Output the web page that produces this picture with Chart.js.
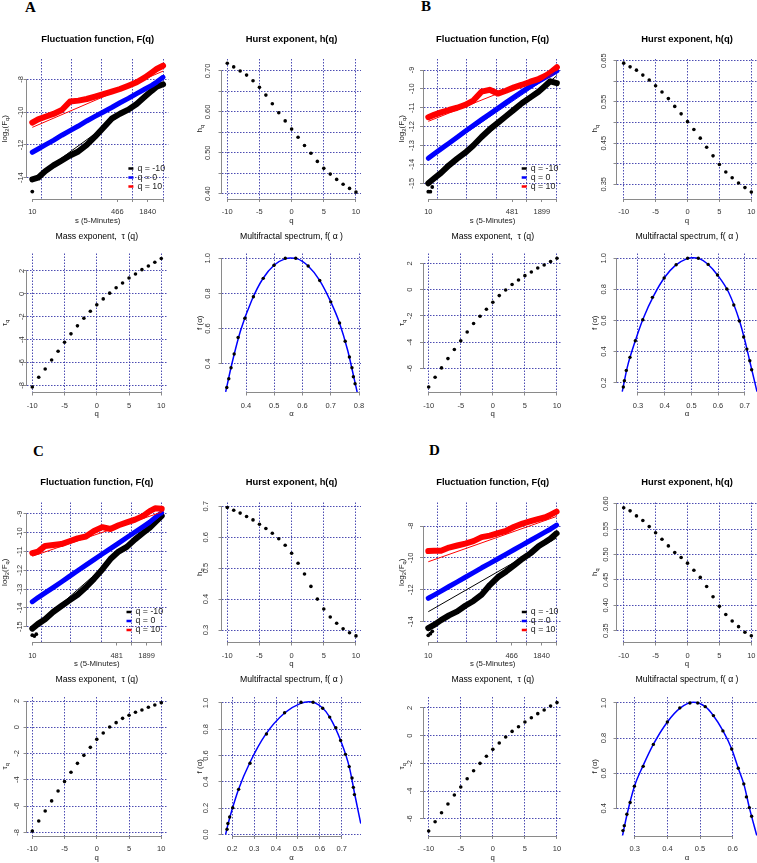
<!DOCTYPE html>
<html>
<head>
<meta charset="utf-8">
<title>MF-DFA panels</title>
<script src="https://cdn.jsdelivr.net/npm/chart.js@4.4.1/dist/chart.umd.min.js"></script>
<style>
  html, body { margin: 0; padding: 0; background: #fff; }
  body { position: relative; width: 757px; height: 863px; overflow: hidden; }
  canvas { position: absolute; }
  .tag { position: absolute; font: bold 15px "Liberation Serif", "Times New Roman", serif; line-height: 15px; color: #000; }
</style>
</head>
<body>
<div class="tag" style="left:25px;top:0px">A</div>
<div class="tag" style="left:421px;top:-1px">B</div>
<div class="tag" style="left:33px;top:444px">C</div>
<div class="tag" style="left:429px;top:443px">D</div>
<script>
// shared q values (x of h(q) and tau(q))
const qValues = [-10, -9, -8, -7, -6, -5, -4, -3, -2, -1, 0, 1, 2, 3, 4, 5, 6, 7, 8, 9, 10];
const qTicks = [-10, -5, 0, 5, 10];
const qTickLabels = ['-10', '-5', '0', '5', '10'];
const legendLabels = ['q = -10', 'q = 0', 'q = 10'];

// ---------- Panel A ----------
const scaleA = [10, 13, 18, 26, 38, 55, 80, 117, 170, 248, 361, 526, 767, 1118, 1629, 2200, 2760, 3680];
const fqA_m10 = [-14.1, -14.0, -13.6, -13.25, -12.95, -12.65, -12.4, -12.0, -11.5, -10.95, -10.4, -10.1, -9.85, -9.5, -9.05, -8.7, -8.45, -8.3];
const fqA_0 = [-12.45, -12.25, -12.0, -11.72, -11.41, -11.13, -10.85, -10.54, -10.26, -9.99, -9.72, -9.43, -9.16, -8.87, -8.59, -8.37, -8.17, -7.88];
const fqA_p10 = [-10.64, -10.44, -10.28, -10.11, -9.87, -9.35, -9.3, -9.2, -9.06, -8.91, -8.75, -8.59, -8.39, -8.18, -7.88, -7.59, -7.37, -7.17];
const fitA_m10 = [-14.1, -8.3];
const fitA_0 = [-12.45, -7.95];
const fitA_p10 = [-10.93, -7.5];
const lowA_s = [10];
const lowA_v = [-14.85];
const hurstA = [0.719, 0.710, 0.700, 0.690, 0.676, 0.660, 0.641, 0.620, 0.598, 0.578, 0.558, 0.538, 0.518, 0.499, 0.479, 0.462, 0.448, 0.435, 0.423, 0.413, 0.404];
const tauA = [-8.15, -7.3, -6.58, -5.78, -5.02, -4.23, -3.5, -2.8, -2.13, -1.52, -0.96, -0.44, 0.06, 0.54, 0.95, 1.39, 1.74, 2.12, 2.44, 2.76, 3.1];
const alphaA = [0.332, 0.339, 0.347, 0.358, 0.372, 0.396, 0.426, 0.461, 0.499, 0.539, 0.576, 0.620, 0.661, 0.700, 0.731, 0.751, 0.766, 0.775, 0.780, 0.786];
const falphaA = [0.265, 0.314, 0.377, 0.455, 0.549, 0.659, 0.781, 0.886, 0.960, 1.0, 1.0, 0.956, 0.874, 0.752, 0.632, 0.528, 0.438, 0.377, 0.326, 0.286];
const curveAlphaA = [0.328, 0.35, 0.38, 0.42, 0.46, 0.50, 0.54, 0.557, 0.58, 0.62, 0.66, 0.70, 0.73, 0.76, 0.78, 0.796];
const curveFA = [0.24, 0.40, 0.585, 0.76, 0.885, 0.962, 0.998, 1.002, 0.998, 0.956, 0.876, 0.752, 0.636, 0.475, 0.335, 0.22];

// ---------- Panel B ----------
const scaleB = [10, 13, 18, 26, 38, 55, 80, 117, 170, 248, 361, 526, 767, 1118, 1629, 2200, 2800, 3800];
const fqB_m10 = [-15.0, -14.75, -14.45, -14.05, -13.7, -13.38, -13.0, -12.55, -12.15, -11.8, -11.45, -11.1, -10.75, -10.45, -10.15, -9.85, -9.6, -9.7];
const fqB_0 = [-13.68, -13.45, -13.18, -12.88, -12.56, -12.25, -11.94, -11.63, -11.33, -11.03, -10.73, -10.43, -10.14, -9.86, -9.6, -9.4, -9.25, -9.05];
const fqB_p10 = [-11.5, -11.38, -11.25, -11.12, -11.0, -10.85, -10.62, -10.15, -10.05, -10.25, -10.1, -9.92, -9.78, -9.62, -9.48, -9.32, -9.15, -8.85];
const fitB_m10 = [-15.05, -9.3];
const fitB_0 = [-13.7, -9.05];
const fitB_p10 = [-11.72, -9.0];
const lowB_s = [10, 11, 12];
const lowB_v = [-15.45, -15.45, -15.2];
const hurstB = [0.644, 0.635, 0.627, 0.615, 0.603, 0.589, 0.574, 0.558, 0.539, 0.521, 0.502, 0.483, 0.462, 0.440, 0.419, 0.398, 0.380, 0.366, 0.353, 0.342, 0.331];
const tauB = [-7.42, -6.68, -5.97, -5.26, -4.57, -3.91, -3.23, -2.59, -2.04, -1.50, -0.97, -0.46, -0.03, 0.38, 0.73, 1.06, 1.34, 1.64, 1.87, 2.13, 2.38];
const alphaB = [0.245, 0.249, 0.256, 0.270, 0.290, 0.318, 0.354, 0.398, 0.443, 0.486, 0.526, 0.563, 0.598, 0.633, 0.659, 0.680, 0.696, 0.708, 0.719, 0.726];
const falphaB = [0.172, 0.212, 0.279, 0.363, 0.470, 0.605, 0.749, 0.873, 0.959, 1.0, 1.0, 0.961, 0.893, 0.803, 0.700, 0.597, 0.494, 0.416, 0.341, 0.283];
const curveAlphaB = [0.241, 0.26, 0.29, 0.32, 0.36, 0.40, 0.44, 0.48, 0.506, 0.53, 0.56, 0.60, 0.64, 0.68, 0.70, 0.72, 0.746];
const curveFB = [0.142, 0.30, 0.47, 0.615, 0.763, 0.878, 0.955, 0.995, 1.003, 0.998, 0.965, 0.888, 0.78, 0.60, 0.475, 0.33, 0.142];

// ---------- Panel C ----------
const scaleC = [10, 13, 18, 26, 38, 55, 80, 117, 170, 248, 361, 526, 767, 1118, 1629, 2200, 2800, 3800];
const fqC_m10 = [-15.1, -14.85, -14.6, -14.22, -13.9, -13.6, -13.3, -12.9, -12.45, -11.95, -11.4, -11.0, -10.75, -10.35, -10.0, -9.73, -9.45, -9.1];
const fqC_0 = [-13.67, -13.45, -13.2, -12.92, -12.62, -12.32, -12.02, -11.72, -11.43, -11.13, -10.84, -10.55, -10.25, -9.96, -9.67, -9.43, -9.2, -8.93];
const fqC_p10 = [-11.08, -11.0, -10.7, -10.65, -10.6, -10.45, -10.3, -10.2, -9.9, -9.7, -9.8, -9.6, -9.45, -9.3, -9.1, -8.85, -8.7, -8.72];
const fitC_m10 = [-15.15, -9.1];
const fitC_0 = [-13.7, -8.95];
const fitC_p10 = [-11.25, -8.9];
const lowC_s = [10, 11, 12];
const lowC_v = [-15.45, -15.5, -15.4];
const hurstC = [0.696, 0.687, 0.678, 0.667, 0.656, 0.642, 0.628, 0.613, 0.595, 0.574, 0.548, 0.516, 0.481, 0.441, 0.400, 0.368, 0.342, 0.322, 0.304, 0.291, 0.281];
const tauC = [-7.9, -7.14, -6.38, -5.61, -4.85, -4.14, -3.43, -2.75, -2.14, -1.53, -0.92, -0.44, 0.02, 0.35, 0.68, 0.91, 1.14, 1.31, 1.52, 1.70, 1.87];
const alphaC = [0.176, 0.180, 0.188, 0.202, 0.229, 0.281, 0.356, 0.439, 0.514, 0.569, 0.613, 0.645, 0.673, 0.695, 0.717, 0.734, 0.747, 0.753, 0.758];
const falphaC = [0.040, 0.083, 0.133, 0.203, 0.343, 0.541, 0.764, 0.925, 1.005, 1.005, 0.960, 0.892, 0.812, 0.714, 0.609, 0.516, 0.429, 0.358, 0.303];
const curveAlphaC = [0.1695, 0.18, 0.20, 0.23, 0.28, 0.35, 0.44, 0.51, 0.55, 0.61, 0.645, 0.695, 0.735, 0.76, 0.787];
const curveFC = [0.0, 0.075, 0.195, 0.35, 0.545, 0.755, 0.925, 0.995, 1.008, 0.965, 0.892, 0.714, 0.51, 0.30, 0.083];

// ---------- Panel D ----------
const scaleD = [10, 13, 18, 26, 38, 55, 80, 117, 170, 248, 361, 526, 767, 1118, 1629, 2200, 2760, 3680];
const fqD_m10 = [-14.4, -14.2, -13.9, -13.6, -13.35, -13.0, -12.7, -12.3, -11.7, -11.2, -10.85, -10.45, -10.05, -9.7, -9.25, -9.0, -8.8, -8.46];
const fqD_0 = [-12.53, -12.33, -12.08, -11.79, -11.5, -11.21, -10.92, -10.62, -10.34, -10.05, -9.76, -9.47, -9.18, -8.89, -8.6, -8.37, -8.2, -7.95];
const fqD_p10 = [-9.57, -9.55, -9.55, -9.35, -9.22, -9.1, -8.95, -8.7, -8.6, -8.45, -8.3, -8.05, -7.85, -7.7, -7.55, -7.45, -7.3, -7.1];
const fitD_m10 = [-13.37, -8.75];
const fitD_0 = [-12.55, -7.95];
const fitD_p10 = [-10.24, -7.4];
const lowD_s = [10, 11, 12];
const lowD_v = [-14.85, -14.75, -14.6];
const hurstD = [0.592, 0.586, 0.576, 0.567, 0.555, 0.543, 0.530, 0.517, 0.504, 0.494, 0.483, 0.469, 0.455, 0.437, 0.417, 0.398, 0.382, 0.369, 0.358, 0.347, 0.340];
const tauD = [-6.89, -6.22, -5.57, -4.94, -4.29, -3.71, -3.11, -2.53, -2.0, -1.49, -0.99, -0.53, -0.10, 0.31, 0.65, 0.99, 1.30, 1.59, 1.86, 2.14, 2.39];
const alphaD = [0.264, 0.268, 0.276, 0.286, 0.299, 0.326, 0.357, 0.400, 0.438, 0.469, 0.493, 0.516, 0.541, 0.570, 0.597, 0.617, 0.634, 0.642, 0.651, 0.658];
const falphaD = [0.273, 0.301, 0.366, 0.433, 0.526, 0.639, 0.764, 0.892, 0.972, 1.0, 1.0, 0.979, 0.928, 0.841, 0.738, 0.628, 0.539, 0.465, 0.404, 0.355];
const curveAlphaD = [0.2622, 0.27, 0.285, 0.30, 0.325, 0.357, 0.40, 0.44, 0.48, 0.516, 0.54, 0.57, 0.597, 0.617, 0.634, 0.651, 0.6745];
const curveFD = [0.239, 0.31, 0.43, 0.53, 0.64, 0.764, 0.892, 0.972, 1.004, 0.979, 0.93, 0.842, 0.738, 0.628, 0.539, 0.404, 0.239];

// axis ticks of the fluctuation plots (labels only on some)
const sTicksA = [10, 466, 920, 1840, 3680];
const sLabelsA = ['10', '466', '', '1840', ''];
const sGridA = [15, 58, 232, 920, 3680];
const sTicksB = [10, 481, 950, 1899, 3800];
const sLabelsB = ['10', '481', '', '1899', ''];
const sGridB = [15, 59, 237, 950, 3800];

const FONT = '"Liberation Sans", Arial, Helvetica, sans-serif';
const GRID = 'rgba(45, 45, 165, 0.85)';
const AXIS = '#8a8a8a';
const TXT = '#333333';
const NONE = 'rgba(0,0,0,0)';

function pairs(xs, ys) {
    return xs.map((x, i) => ({ x: x, y: ys[i] }));
}

function drawParts(ctx, parts, size, x, y, rotated) {
    const f = s => s + 'px ' + FONT;
    let w = 0;
    parts.forEach(p => { ctx.font = f(p[1] ? size * 0.72 : size); w += ctx.measureText(p[0]).width; });
    ctx.save();
    ctx.translate(x, y);
    if (rotated) ctx.rotate(-Math.PI / 2);
    ctx.textAlign = 'left';
    ctx.textBaseline = 'middle';
    let pos = -w / 2;
    parts.forEach(p => {
        ctx.font = f(p[1] ? size * 0.72 : size);
        ctx.fillText(p[0], pos, p[1] ? size * 0.35 : 0);
        pos += ctx.measureText(p[0]).width;
    });
    ctx.restore();
}

// R-like axes, labels, titles and legend
function rPlot(cfg) {
    return {
        id: 'rPlot',
        afterDraw(chart) {
            const ctx = chart.ctx;
            const a = chart.chartArea;
            const sx = chart.scales.x, sy = chart.scales.y;
            const cx = (a.left + a.right) / 2, cy = (a.top + a.bottom) / 2;
            ctx.save();
            ctx.strokeStyle = AXIS;
            ctx.lineWidth = 1;
            ctx.beginPath();
            const yb = Math.round(a.bottom) + 0.5, xl = Math.round(a.left) - 0.5;
            ctx.moveTo(sx.getPixelForValue(cfg.xTicks[0]), yb);
            ctx.lineTo(sx.getPixelForValue(cfg.xTicks[cfg.xTicks.length - 1]), yb);
            ctx.moveTo(xl, sy.getPixelForValue(cfg.yTicks[0]));
            ctx.lineTo(xl, sy.getPixelForValue(cfg.yTicks[cfg.yTicks.length - 1]));
            ctx.stroke();

            ctx.fillStyle = TXT;
            ctx.font = '7.5px ' + FONT;
            ctx.textAlign = 'center';
            ctx.textBaseline = 'middle';
            cfg.xTicks.forEach((v, i) => {
                const t = cfg.xLabels[i];
                if (t) ctx.fillText(t, sx.getPixelForValue(v), a.bottom + 13.5);
            });
            cfg.yTicks.forEach((v, i) => {
                const t = cfg.yLabels[i];
                if (!t) return;
                ctx.save();
                ctx.translate(a.left - cfg.yGap, sy.getPixelForValue(v));
                ctx.rotate(-Math.PI / 2);
                ctx.fillText(t, 0, 0);
                ctx.restore();
            });

            ctx.fillStyle = '#000';
            ctx.font = (cfg.bold ? 'bold 9.4px ' : '8.7px ') + FONT;
            ctx.fillText(cfg.title, cx, a.top - (cfg.bold ? 20 : 17));

            ctx.fillStyle = '#222';
            drawParts(ctx, cfg.xTitle, 7.8, cx, a.bottom + 22, false);
            drawParts(ctx, cfg.yTitle, 8, a.left - 22, cy, true);

            if (cfg.legend) {
                const cols = ['#000000', '#0000ff', '#ff0000'];
                ctx.font = '8.8px ' + FONT;
                ctx.textAlign = 'left';
                legendLabels.forEach((t, i) => {
                    const y = a.bottom - 30 + 9 * i;
                    ctx.strokeStyle = cols[i];
                    ctx.lineWidth = 2.5;
                    ctx.beginPath();
                    ctx.moveTo(a.right - 40, y);
                    ctx.lineTo(a.right - 35, y);
                    ctx.stroke();
                    ctx.fillStyle = '#222';
                    ctx.fillText(t, a.right - 31, y);
                });
            }
            ctx.restore();
        }
    };
}

function makePanel(cfg) {
    const cl = Math.floor(cfg.L - 40), ct = Math.floor(cfg.T - 32);
    const W = Math.ceil(cfg.R + 10) - cl, H = Math.ceil(cfg.B + 30) - ct;
    const pad = {
        left: cfg.L - 40 - cl,
        top: cfg.T - ct,
        right: W - (cfg.R - cl),
        bottom: H - 30 - (cfg.B - ct)
    };
    const cv = document.createElement('canvas');
    cv.width = W;
    cv.height = H;
    cv.style.left = cl + 'px';
    cv.style.top = ct + 'px';
    cv.style.width = W + 'px';
    cv.style.height = H + 'px';
    document.body.appendChild(cv);

    const xGrid = cfg.xGrid || cfg.xTicks;
    const xAll = Array.from(new Set(cfg.xTicks.concat(xGrid))).sort((p, q) => p - q);
    const yGrid = cfg.yTicks;

    new Chart(cv, {
        type: 'scatter',
        data: { datasets: cfg.datasets },
        options: {
            responsive: false,
            animation: false,
            devicePixelRatio: 1,
            events: [],
            layout: { padding: pad },
            plugins: { legend: { display: false }, tooltip: { enabled: false } },
            scales: {
                x: {
                    type: cfg.xLog ? 'logarithmic' : 'linear',
                    bounds: 'data',
                    min: cfg.xMin,
                    max: cfg.xMax,
                    afterBuildTicks: s => { s.ticks = xAll.map(v => ({ value: v })); },
                    afterFit: s => { s.height = 30; },
                    ticks: { display: false },
                    border: { display: false, dash: [1.5, 1.5] },
                    grid: {
                        drawTicks: true, tickLength: 3.5, lineWidth: 1, tickWidth: 1,
                        color: c => (c.tick && xGrid.includes(c.tick.value)) ? GRID : NONE,
                        tickColor: c => (c.tick && cfg.xTicks.includes(c.tick.value)) ? AXIS : NONE
                    }
                },
                y: {
                    type: 'linear',
                    bounds: 'data',
                    min: cfg.yMin,
                    max: cfg.yMax,
                    afterBuildTicks: s => { s.ticks = cfg.yTicks.map(v => ({ value: v })); },
                    afterFit: s => { s.width = 40; },
                    ticks: { display: false },
                    border: { display: false, dash: [1.5, 1.5] },
                    grid: {
                        drawTicks: true, tickLength: 3.5, lineWidth: 1, tickWidth: 1,
                        color: c => (c.tick && yGrid.includes(c.tick.value)) ? GRID : NONE,
                        tickColor: AXIS
                    }
                }
            }
        },
        plugins: [rPlot(cfg)]
    });
}

function fluctSets(s, m10, z, p10, fm, fz, fp, lowS, lowV) {
    const ends = [s[0], s[s.length - 1]];
    const band = (v, col, w) => ({
        data: pairs(s, v), showLine: true, pointRadius: 0, borderColor: col, borderWidth: w,
        borderJoinStyle: 'round', borderCapStyle: 'round', tension: 0
    });
    const fit = (v, col) => ({ data: pairs(ends, v), showLine: true, pointRadius: 0, borderColor: col, borderWidth: 1 });
    return [
        fit(fp, '#ff0000'), fit(fz, '#0000ff'), fit(fm, '#000000'),
        { data: pairs(lowS, lowV), pointRadius: 1.9, pointBackgroundColor: '#000', pointBorderWidth: 0 },
        band(p10, '#ff0000', 6), band(z, '#0000ff', 5), band(m10, '#000000', 6)
    ];
}

function dotSets(xs, ys) {
    return [{ data: pairs(xs, ys), pointRadius: 1.8, pointBackgroundColor: '#000', pointBorderWidth: 0 }];
}

function spectrumSets(ax, fx, cax, cfx) {
    return [
        { data: pairs(ax, fx), pointRadius: 1.7, pointBackgroundColor: '#000', pointBorderWidth: 0 },
        { data: pairs(cax, cfx), showLine: true, pointRadius: 0, borderColor: '#0000ff', borderWidth: 1.5,
          cubicInterpolationMode: 'monotone' }
    ];
}

const FQ_TITLE = 'Fluctuation function, F(q)';
const H_TITLE = 'Hurst exponent, h(q)';
const TAU_TITLE = 'Mass exponent,  \u03c4 (q)';
const F_TITLE = 'Multifractal spectrum, f( \u03b1 )';
const S_LAB = [['s (5-Minutes)', 0]];
const Q_LAB = [['q', 0]];
const A_LAB = [['\u03b1', 0]];
const FQ_YLAB = [['log', 0], ['2', 1], ['(F', 0], ['q', 1], [')', 0]];
const H_YLAB = [['h', 0], ['q', 1]];
const TAU_YLAB = [['\u03c4', 0], ['q', 1]];
const F_YLAB = [['f (\u03b1)', 0]];

const panels = [
    // ---- A ----
    { L: 27, R: 168.4, T: 59, B: 198.5, xLog: true, xMin: 7.87, xMax: 4686, yMin: -15.27, yMax: -6.76,
      xTicks: sTicksA, xLabels: sLabelsA, xGrid: sGridA,
      yTicks: [-14, -12, -10, -8], yLabels: ['-14', '-12', '-10', '-8'], yGap: 6,
      title: FQ_TITLE, bold: true, xTitle: S_LAB, yTitle: FQ_YLAB, legend: true,
      datasets: fluctSets(scaleA, fqA_m10, fqA_0, fqA_p10, fitA_m10, fitA_0, fitA_p10, lowA_s, lowA_v) },
    { L: 222, R: 361, T: 59, B: 198.5, xMin: -10.82, xMax: 10.78, yMin: 0.3883, yMax: 0.7293,
      xTicks: qTicks, xLabels: qTickLabels,
      yTicks: [0.40, 0.45, 0.50, 0.55, 0.60, 0.65, 0.70], yLabels: ['0.40', '', '0.50', '', '0.60', '', '0.70'], yGap: 14,
      title: H_TITLE, bold: true, xTitle: Q_LAB, yTitle: H_YLAB, datasets: dotSets(qValues, hurstA) },
    { L: 27, R: 166.5, T: 253.5, B: 392, xMin: -10.82, xMax: 10.81, yMin: -8.586, yMax: 3.531,
      xTicks: qTicks, xLabels: qTickLabels,
      yTicks: [-8, -6, -4, -2, 0, 2], yLabels: ['-8', '-6', '-4', '-2', '0', '2'], yGap: 5,
      title: TAU_TITLE, bold: false, xTitle: Q_LAB, yTitle: TAU_YLAB, datasets: dotSets(qValues, tauA) },
    { L: 222, R: 361, T: 253.5, B: 392, xMin: 0.315, xMax: 0.807, yMin: 0.239, yMax: 1.0273,
      xTicks: [0.4, 0.5, 0.6, 0.7, 0.8], xLabels: ['0.4', '0.5', '0.6', '0.7', '0.8'],
      yTicks: [0.4, 0.6, 0.8, 1.0], yLabels: ['0.4', '0.6', '0.8', '1.0'], yGap: 14,
      title: F_TITLE, bold: false, xTitle: A_LAB, yTitle: F_YLAB,
      datasets: spectrumSets(alphaA, falphaA, curveAlphaA, curveFA) },
    // ---- B ----
    { L: 423.5, R: 561.7, T: 59, B: 198.5, xLog: true, xMin: 8.01, xMax: 4755, yMin: -15.81, yMax: -8.417,
      xTicks: sTicksB, xLabels: sLabelsB, xGrid: sGridB,
      yTicks: [-15, -14, -13, -12, -11, -10, -9], yLabels: ['-15', '-14', '-13', '-12', '-11', '-10', '-9'], yGap: 12,
      title: FQ_TITLE, bold: true, xTitle: S_LAB, yTitle: FQ_YLAB, legend: true,
      datasets: fluctSets(scaleB, fqB_m10, fqB_0, fqB_p10, fitB_m10, fitB_0, fitB_p10, lowB_s, lowB_v) },
    { L: 617, R: 757, T: 59, B: 198.5, xMin: -11.05, xMax: 10.89, yMin: 0.3155, yMax: 0.6541,
      xTicks: qTicks, xLabels: qTickLabels,
      yTicks: [0.35, 0.40, 0.45, 0.50, 0.55, 0.60, 0.65], yLabels: ['0.35', '', '0.45', '', '0.55', '', '0.65'], yGap: 13,
      title: H_TITLE, bold: true, xTitle: Q_LAB, yTitle: H_YLAB, datasets: dotSets(qValues, hurstB) },
    { L: 423.5, R: 562, T: 253.5, B: 392, xMin: -10.81, xMax: 10.78, yMin: -7.805, yMax: 2.746,
      xTicks: qTicks, xLabels: qTickLabels,
      yTicks: [-6, -4, -2, 0, 2], yLabels: ['-6', '-4', '-2', '0', '2'], yGap: 13.5,
      title: TAU_TITLE, bold: false, xTitle: Q_LAB, yTitle: TAU_YLAB, datasets: dotSets(qValues, tauB) },
    { L: 617, R: 757, T: 253.5, B: 392, xMin: 0.2213, xMax: 0.746, yMin: 0.14, yMax: 1.031,
      xTicks: [0.3, 0.4, 0.5, 0.6, 0.7], xLabels: ['0.3', '0.4', '0.5', '0.6', '0.7'],
      yTicks: [0.2, 0.4, 0.6, 0.8, 1.0], yLabels: ['0.2', '0.4', '0.6', '0.8', '1.0'], yGap: 13,
      title: F_TITLE, bold: false, xTitle: A_LAB, yTitle: F_YLAB,
      datasets: spectrumSets(alphaB, falphaB, curveAlphaB, curveFB) },
    // ---- C ----
    { L: 27, R: 166.5, T: 502.5, B: 642, xLog: true, xMin: 7.84, xMax: 4735, yMin: -15.815, yMax: -8.388,
      xTicks: sTicksB, xLabels: sLabelsB, xGrid: sGridB,
      yTicks: [-15, -14, -13, -12, -11, -10, -9], yLabels: ['-15', '-14', '-13', '-12', '-11', '-10', '-9'], yGap: 7,
      title: FQ_TITLE, bold: true, xTitle: S_LAB, yTitle: FQ_YLAB, legend: true,
      datasets: fluctSets(scaleC, fqC_m10, fqC_0, fqC_p10, fitC_m10, fitC_0, fitC_p10, lowC_s, lowC_v) },
    { L: 222, R: 361, T: 502.5, B: 642, xMin: -10.82, xMax: 10.78, yMin: 0.2612, yMax: 0.7123,
      xTicks: qTicks, xLabels: qTickLabels,
      yTicks: [0.3, 0.4, 0.5, 0.6, 0.7], yLabels: ['0.3', '0.4', '0.5', '0.6', '0.7'], yGap: 16,
      title: H_TITLE, bold: true, xTitle: Q_LAB, yTitle: H_YLAB, datasets: dotSets(qValues, hurstC) },
    { L: 27, R: 166.5, T: 697, B: 835.5, xMin: -10.82, xMax: 10.81, yMin: -8.244, yMax: 2.305,
      xTicks: qTicks, xLabels: qTickLabels,
      yTicks: [-8, -6, -4, -2, 0, 2], yLabels: ['-8', '-6', '-4', '-2', '0', '2'], yGap: 10,
      title: TAU_TITLE, bold: false, xTitle: Q_LAB, yTitle: TAU_YLAB, datasets: dotSets(qValues, tauC) },
    { L: 222, R: 361, T: 697, B: 835.5, xMin: 0.153, xMax: 0.788, yMin: -0.008, yMax: 1.045,
      xTicks: [0.2, 0.3, 0.4, 0.5, 0.6, 0.7], xLabels: ['0.2', '0.3', '0.4', '0.5', '0.6', '0.7'],
      yTicks: [0.0, 0.2, 0.4, 0.6, 0.8, 1.0], yLabels: ['0.0', '0.2', '0.4', '0.6', '0.8', '1.0'], yGap: 16,
      title: F_TITLE, bold: false, xTitle: A_LAB, yTitle: F_YLAB,
      datasets: spectrumSets(alphaC, falphaC, curveAlphaC, curveFC) },
    // ---- D ----
    { L: 423.5, R: 561.8, T: 502.5, B: 642, xLog: true, xMin: 8.02, xMax: 4680, yMin: -15.27, yMax: -6.527,
      xTicks: sTicksA, xLabels: sLabelsA, xGrid: sGridA,
      yTicks: [-14, -12, -10, -8], yLabels: ['-14', '-12', '-10', '-8'], yGap: 13,
      title: FQ_TITLE, bold: true, xTitle: S_LAB, yTitle: FQ_YLAB, legend: true,
      datasets: fluctSets(scaleD, fqD_m10, fqD_0, fqD_p10, fitD_m10, fitD_0, fitD_p10, lowD_s, lowD_v) },
    { L: 617, R: 757, T: 502.5, B: 642, xMin: -11.05, xMax: 10.89, yMin: 0.3278, yMax: 0.6024,
      xTicks: qTicks, xLabels: qTickLabels,
      yTicks: [0.35, 0.40, 0.45, 0.50, 0.55, 0.60], yLabels: ['0.35', '0.40', '0.45', '0.50', '0.55', '0.60'], yGap: 11,
      title: H_TITLE, bold: true, xTitle: Q_LAB, yTitle: H_YLAB, datasets: dotSets(qValues, hurstD) },
    { L: 423.5, R: 562, T: 697, B: 835.5, xMin: -10.81, xMax: 10.78, yMin: -7.215, yMax: 2.795,
      xTicks: qTicks, xLabels: qTickLabels,
      yTicks: [-6, -4, -2, 0, 2], yLabels: ['-6', '-4', '-2', '0', '2'], yGap: 13.5,
      title: TAU_TITLE, bold: false, xTitle: Q_LAB, yTitle: TAU_YLAB, datasets: dotSets(qValues, tauD) },
    { L: 617, R: 757, T: 697, B: 835.5, xMin: 0.2458, xMax: 0.6744, yMin: 0.245, yMax: 1.034,
      xTicks: [0.3, 0.4, 0.5, 0.6], xLabels: ['0.3', '0.4', '0.5', '0.6'],
      yTicks: [0.4, 0.6, 0.8, 1.0], yLabels: ['0.4', '0.6', '0.8', '1.0'], yGap: 13,
      title: F_TITLE, bold: false, xTitle: A_LAB, yTitle: F_YLAB,
      datasets: spectrumSets(alphaD, falphaD, curveAlphaD, curveFD) }
];

panels.forEach(makePanel);
</script>
</body>
</html>
